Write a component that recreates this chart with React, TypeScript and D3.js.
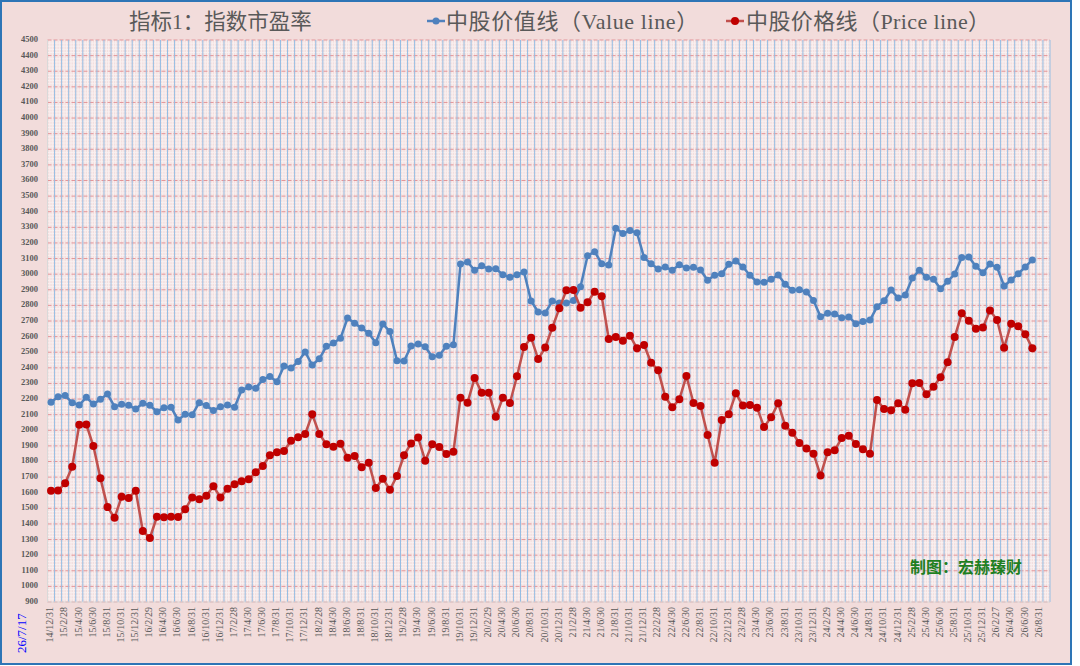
import * as d3 from 'd3';
import React from 'react';

// 中股价值线 (Value line), monthly from 14/12 to 26/7
const valueLine = [
	2180, 2215, 2222, 2177, 2162, 2211, 2168, 2198, 2232, 2151,
	2166, 2160, 2136, 2173, 2160, 2119, 2145, 2147, 2066, 2102,
	2100, 2177, 2158, 2126, 2151, 2162, 2147, 2258, 2277, 2269,
	2326, 2345, 2311, 2412, 2399, 2440, 2501, 2418, 2458, 2538,
	2559, 2589, 2719, 2685, 2655, 2621, 2561, 2681, 2632, 2446,
	2444, 2540, 2553, 2535, 2471, 2480, 2538, 2548, 3065, 3078,
	3025, 3054, 3033, 3035, 2997, 2980, 2997, 3014, 2828, 2758,
	2752, 2828, 2815, 2815, 2832, 2920, 3118, 3144, 3067, 3059,
	3294, 3260, 3279, 3266, 3106, 3067, 3033, 3046, 3025, 3061,
	3039, 3044, 3027, 2961, 2993, 3003, 3063, 3084, 3046, 2993,
	2950, 2948, 2967, 2995, 2935, 2897, 2900, 2886, 2832, 2727,
	2749, 2745, 2721, 2726, 2683, 2696, 2706, 2791, 2830, 2898,
	2847, 2866, 2975, 3025, 2980, 2967, 2907, 2954, 3001, 3106,
	3110, 3050, 3009, 3065, 3044, 2924, 2963, 3003, 3046, 3091
];

// 中股价格线 (Price line)
const priceLine = [
	1613, 1615, 1660, 1767, 2036, 2037, 1899, 1692, 1508, 1440,
	1574, 1566, 1613, 1355, 1310, 1446, 1443, 1446, 1444, 1494,
	1570, 1558, 1581, 1641, 1570, 1626, 1654, 1673, 1686, 1731,
	1771, 1840, 1859, 1867, 1933, 1955, 1976, 2102, 1976, 1910,
	1895, 1914, 1824, 1835, 1763, 1792, 1630, 1690, 1619, 1707,
	1840, 1916, 1953, 1805, 1910, 1893, 1848, 1863, 2209, 2177,
	2335, 2241, 2241, 2087, 2209, 2175, 2346, 2533, 2593, 2456,
	2530, 2657, 2781, 2897, 2898, 2785, 2820, 2888, 2858, 2585,
	2597, 2574, 2606, 2525, 2546, 2433, 2384, 2215, 2147, 2198,
	2348, 2175, 2155, 1970, 1792, 2066, 2102, 2237, 2158, 2162,
	2145, 2021, 2083, 2173, 2029, 1984, 1918, 1884, 1850, 1711,
	1859, 1872, 1950, 1965, 1912, 1878, 1850, 2194, 2136, 2128,
	2173, 2132, 2301, 2303, 2230, 2279, 2339, 2435, 2597, 2749,
	2702, 2651, 2659, 2768, 2706, 2529, 2683, 2666, 2615, 2525
];

// category labels, shown every second month
const tickLabels = [
	'14/12/31',
	'15/2/28', '15/4/30', '15/6/30', '15/8/31', '15/10/31', '15/12/31',
	'16/2/29', '16/4/30', '16/6/30', '16/8/31', '16/10/31', '16/12/31',
	'17/2/28', '17/4/30', '17/6/30', '17/8/31', '17/10/31', '17/12/31',
	'18/2/28', '18/4/30', '18/6/30', '18/8/31', '18/10/31', '18/12/31',
	'19/2/28', '19/4/30', '19/6/30', '19/8/31', '19/10/31', '19/12/31',
	'20/2/29', '20/4/30', '20/6/30', '20/8/31', '20/10/31', '20/12/31',
	'21/2/28', '21/4/30', '21/6/30', '21/8/31', '21/10/31', '21/12/31',
	'22/2/28', '22/4/30', '22/6/30', '22/8/31', '22/10/31', '22/12/31',
	'23/2/28', '23/4/30', '23/6/30', '23/8/31', '23/10/31', '23/12/31',
	'24/2/29', '24/4/30', '24/6/30', '24/8/31', '24/10/31', '24/12/31',
	'25/2/28', '25/4/30', '25/6/30', '25/8/31', '25/10/31', '25/12/31',
	'26/2/27', '26/4/30', '26/6/30', '26/8/31'
];
const categoryCount = 142;
const yTicks = d3.range(900, 4501, 100);
const yMinor = d3.range(900, 4500, 20).filter(v => v % 100 !== 0);

const W = 1080, H = 666;
const margin = { top: 40, right: 30, bottom: 64, left: 47.5 };

const serif = '"Liberation Serif", "Noto Sans CJK SC", serif';
const blue = '#4f81bd';
const redLine = '#c0504d';
const redDot = '#c00000';

export default function App() {
	const x = d3.scaleBand<number>()
		.domain(d3.range(categoryCount))
		.range([margin.left, W - margin.right]);
	const bw = x.bandwidth();
	const cx = (i: number) => (x(i) as number) + bw / 2;

	const y = d3.scaleLinear()
		.domain([900, 4500])
		.range([H - margin.bottom, margin.top]);

	const line = d3.line<number>()
		.x((d, i) => cx(i))
		.y(d => y(d));

	const x0 = margin.left, x1 = W - margin.right;
	const y0 = margin.top, y1 = H - margin.bottom;

	return (
		<div style={{ position: 'absolute', left: 0, top: 0 }}>
			<svg width={W} height={H} style={{ display: 'block' }}>
				<rect x={0} y={0} width={W} height={H} fill='#ffffff' />
				<rect x={1} y={1} width={1070} height={663} fill='#f2dcdb' stroke='#2e75b6' strokeWidth={2} />

				{/* plot area grid */}
				<rect x={x0} y={y0} width={x1 - x0} height={y1 - y0} fill='#f3dfdf' />
				<g stroke='#ffffff' strokeWidth={1} opacity={0.55}>
					{yMinor.map(v => (
						<line key={'hm' + v} x1={x0} x2={x1} y1={y(v)} y2={y(v)} />
					))}
					{d3.range(categoryCount).map(i => (
						<g key={'vm' + i}>
							<line x1={(x(i) as number) + bw / 3} x2={(x(i) as number) + bw / 3} y1={y0} y2={y1} />
							<line x1={(x(i) as number) + 2 * bw / 3} x2={(x(i) as number) + 2 * bw / 3} y1={y0} y2={y1} />
						</g>
					))}
				</g>
				<g stroke='#e39598' strokeWidth={1} strokeDasharray='4,2'>
					{yTicks.map(v => (
						<line key={'h' + v} x1={x0} x2={x1} y1={y(v)} y2={y(v)} />
					))}
				</g>
				<g stroke='#95bde3' strokeWidth={1}>
					{d3.range(categoryCount + 1).map(i => {
						const xx = i < categoryCount ? (x(i) as number) : x1;
						return <line key={'v' + i} x1={xx} x2={xx} y1={y0} y2={y1} />;
					})}
				</g>
				<line x1={x0} x2={x1} y1={y1} y2={y1} stroke='#d9d9d9' strokeWidth={1} />
				<line x1={x0} x2={x0} y1={y0} y2={y1} stroke='#d9d9d9' strokeWidth={1} />

				{/* y axis labels */}
				<g fontFamily={serif} fontSize={8.5} fontWeight='bold' fill='#595959' textAnchor='end'>
					{yTicks.map(v => (
						<text key={'yl' + v} x={38} y={y(v)} dominantBaseline='middle'>{v}</text>
					))}
				</g>

				{/* x axis labels */}
				<g fontFamily={serif} fontSize={10} fill='#595959' textAnchor='end'>
					{tickLabels.map((t, k) => (
						<text key={'xl' + k} transform={`translate(${cx(k * 2)},${y1 + 5}) rotate(-90)`} dominantBaseline='middle'>{t}</text>
					))}
				</g>

				{/* series */}
				<path d={line(valueLine) as string} fill='none' stroke={blue} strokeWidth={2.5} strokeLinejoin='round' />
				<g fill={blue}>
					{valueLine.map((v, i) => (
						<circle key={'bv' + i} cx={cx(i)} cy={y(v)} r={3.5} />
					))}
				</g>
				<path d={line(priceLine) as string} fill='none' stroke={redLine} strokeWidth={2.5} strokeLinejoin='round' />
				<g fill={redDot}>
					{priceLine.map((v, i) => (
						<circle key={'rv' + i} cx={cx(i)} cy={y(v)} r={4} />
					))}
				</g>

				{/* title and legend */}
				<text x={129} y={29} fontFamily={serif} fontSize={21.5} fill='#595959'>指标1：指数市盈率</text>
				<line x1={427} x2={445} y1={21} y2={21} stroke={blue} strokeWidth={2.5} />
				<circle cx={436} cy={21} r={3.5} fill={blue} />
				<text x={446} y={29} fontFamily={serif} fontSize={22} letterSpacing={0.6} fill='#595959'>中股价值线（Value line）</text>
				<line x1={726} x2={744} y1={21} y2={21} stroke={redLine} strokeWidth={2.5} />
				<circle cx={735} cy={21} r={4} fill={redDot} />
				<text x={746} y={29} fontFamily={serif} fontSize={22} letterSpacing={0.4} fill='#595959'>中股价格线（Price line）</text>

				{/* watermark and date */}
				<text x={910} y={573} fontFamily='"Noto Sans CJK SC", sans-serif' fontSize={16} fontWeight='bold' fill='#1f7f1f'>制图：宏赫臻财</text>
				<text transform='translate(23,653) rotate(-90)' fontFamily={serif} fontSize={13} fill='#0000ff' dominantBaseline='middle'>26/7/17</text>
			</svg>
		</div>
	);
}
